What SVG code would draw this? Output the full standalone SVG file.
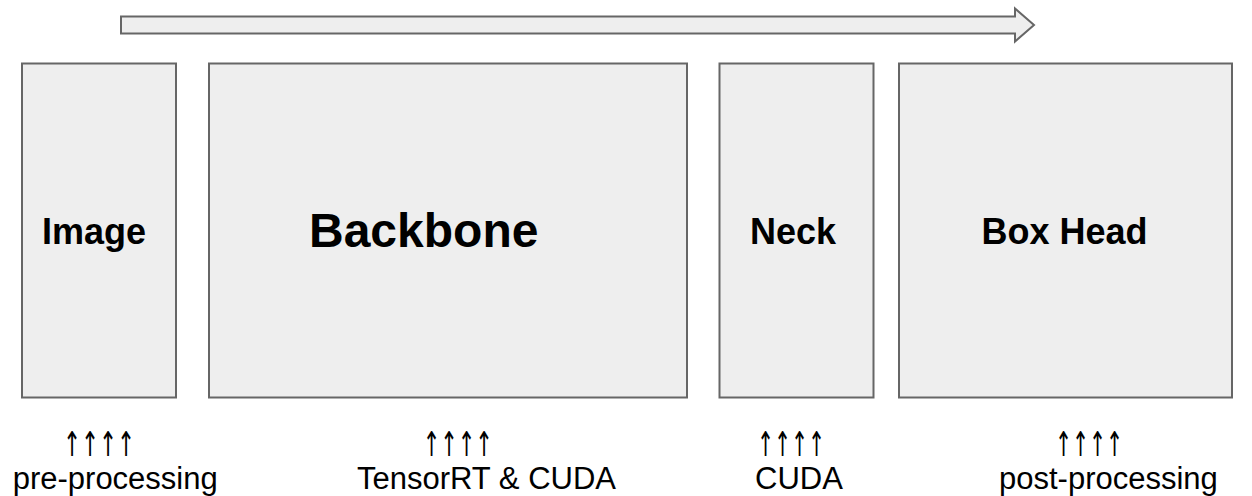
<svg xmlns="http://www.w3.org/2000/svg" width="1252" height="496" viewBox="0 0 1252 496">
<style>
.box{fill:#eeeeee;stroke:#666666;stroke-width:2}
.flow{fill:#eeeeee;stroke:#666666;stroke-width:2;stroke-linejoin:miter}
.title{font-family:"Liberation Sans",Arial,sans-serif;font-weight:bold;fill:#000000}
.lbl{font-family:"Liberation Sans",Arial,sans-serif;font-size:31px;fill:#000000}
.up{font-family:"DejaVu Sans",sans-serif;font-size:34px;fill:#000000}
</style>
<rect width="1252" height="496" fill="#ffffff"/>
<g id="connectors">
<polygon class="flow" points="121,16.5 1015,16.5 1015,8.5 1034,25 1015,41.5 1015,33.5 121,33.5"/>
</g>
<g id="node-image">
<rect class="box" x="22" y="63.5" width="154" height="334"/>
<text class="title" x="42" y="244" font-size="36">Image</text>
</g>
<g id="node-backbone">
<rect class="box" x="209" y="63.5" width="478" height="334"/>
<text class="title" x="309" y="246.5" font-size="48">Backbone</text>
</g>
<g id="node-neck">
<rect class="box" x="719.5" y="63.5" width="154" height="334"/>
<text class="title" x="750" y="244" font-size="36">Neck</text>
</g>
<g id="node-boxhead">
<rect class="box" x="899" y="63.5" width="333" height="334"/>
<text class="title" x="981.5" y="244" font-size="36">Box Head</text>
</g>
<g id="label-pre">
<text class="up" x="63" y="456" textLength="72" lengthAdjust="spacingAndGlyphs">↑↑↑↑</text>
<text class="lbl" x="12.7" y="489">pre-processing</text>
</g>
<g id="label-trt">
<text class="up" x="422.7" y="456" textLength="70" lengthAdjust="spacingAndGlyphs">↑↑↑↑</text>
<text class="lbl" x="357" y="489">TensorRT &amp; CUDA</text>
</g>
<g id="label-cuda">
<text class="up" x="757" y="456" textLength="68" lengthAdjust="spacingAndGlyphs">↑↑↑↑</text>
<text class="lbl" x="755" y="489">CUDA</text>
</g>
<g id="label-post">
<text class="up" x="1055" y="456" textLength="68" lengthAdjust="spacingAndGlyphs">↑↑↑↑</text>
<text class="lbl" x="999" y="489">post-processing</text>
</g>
</svg>
